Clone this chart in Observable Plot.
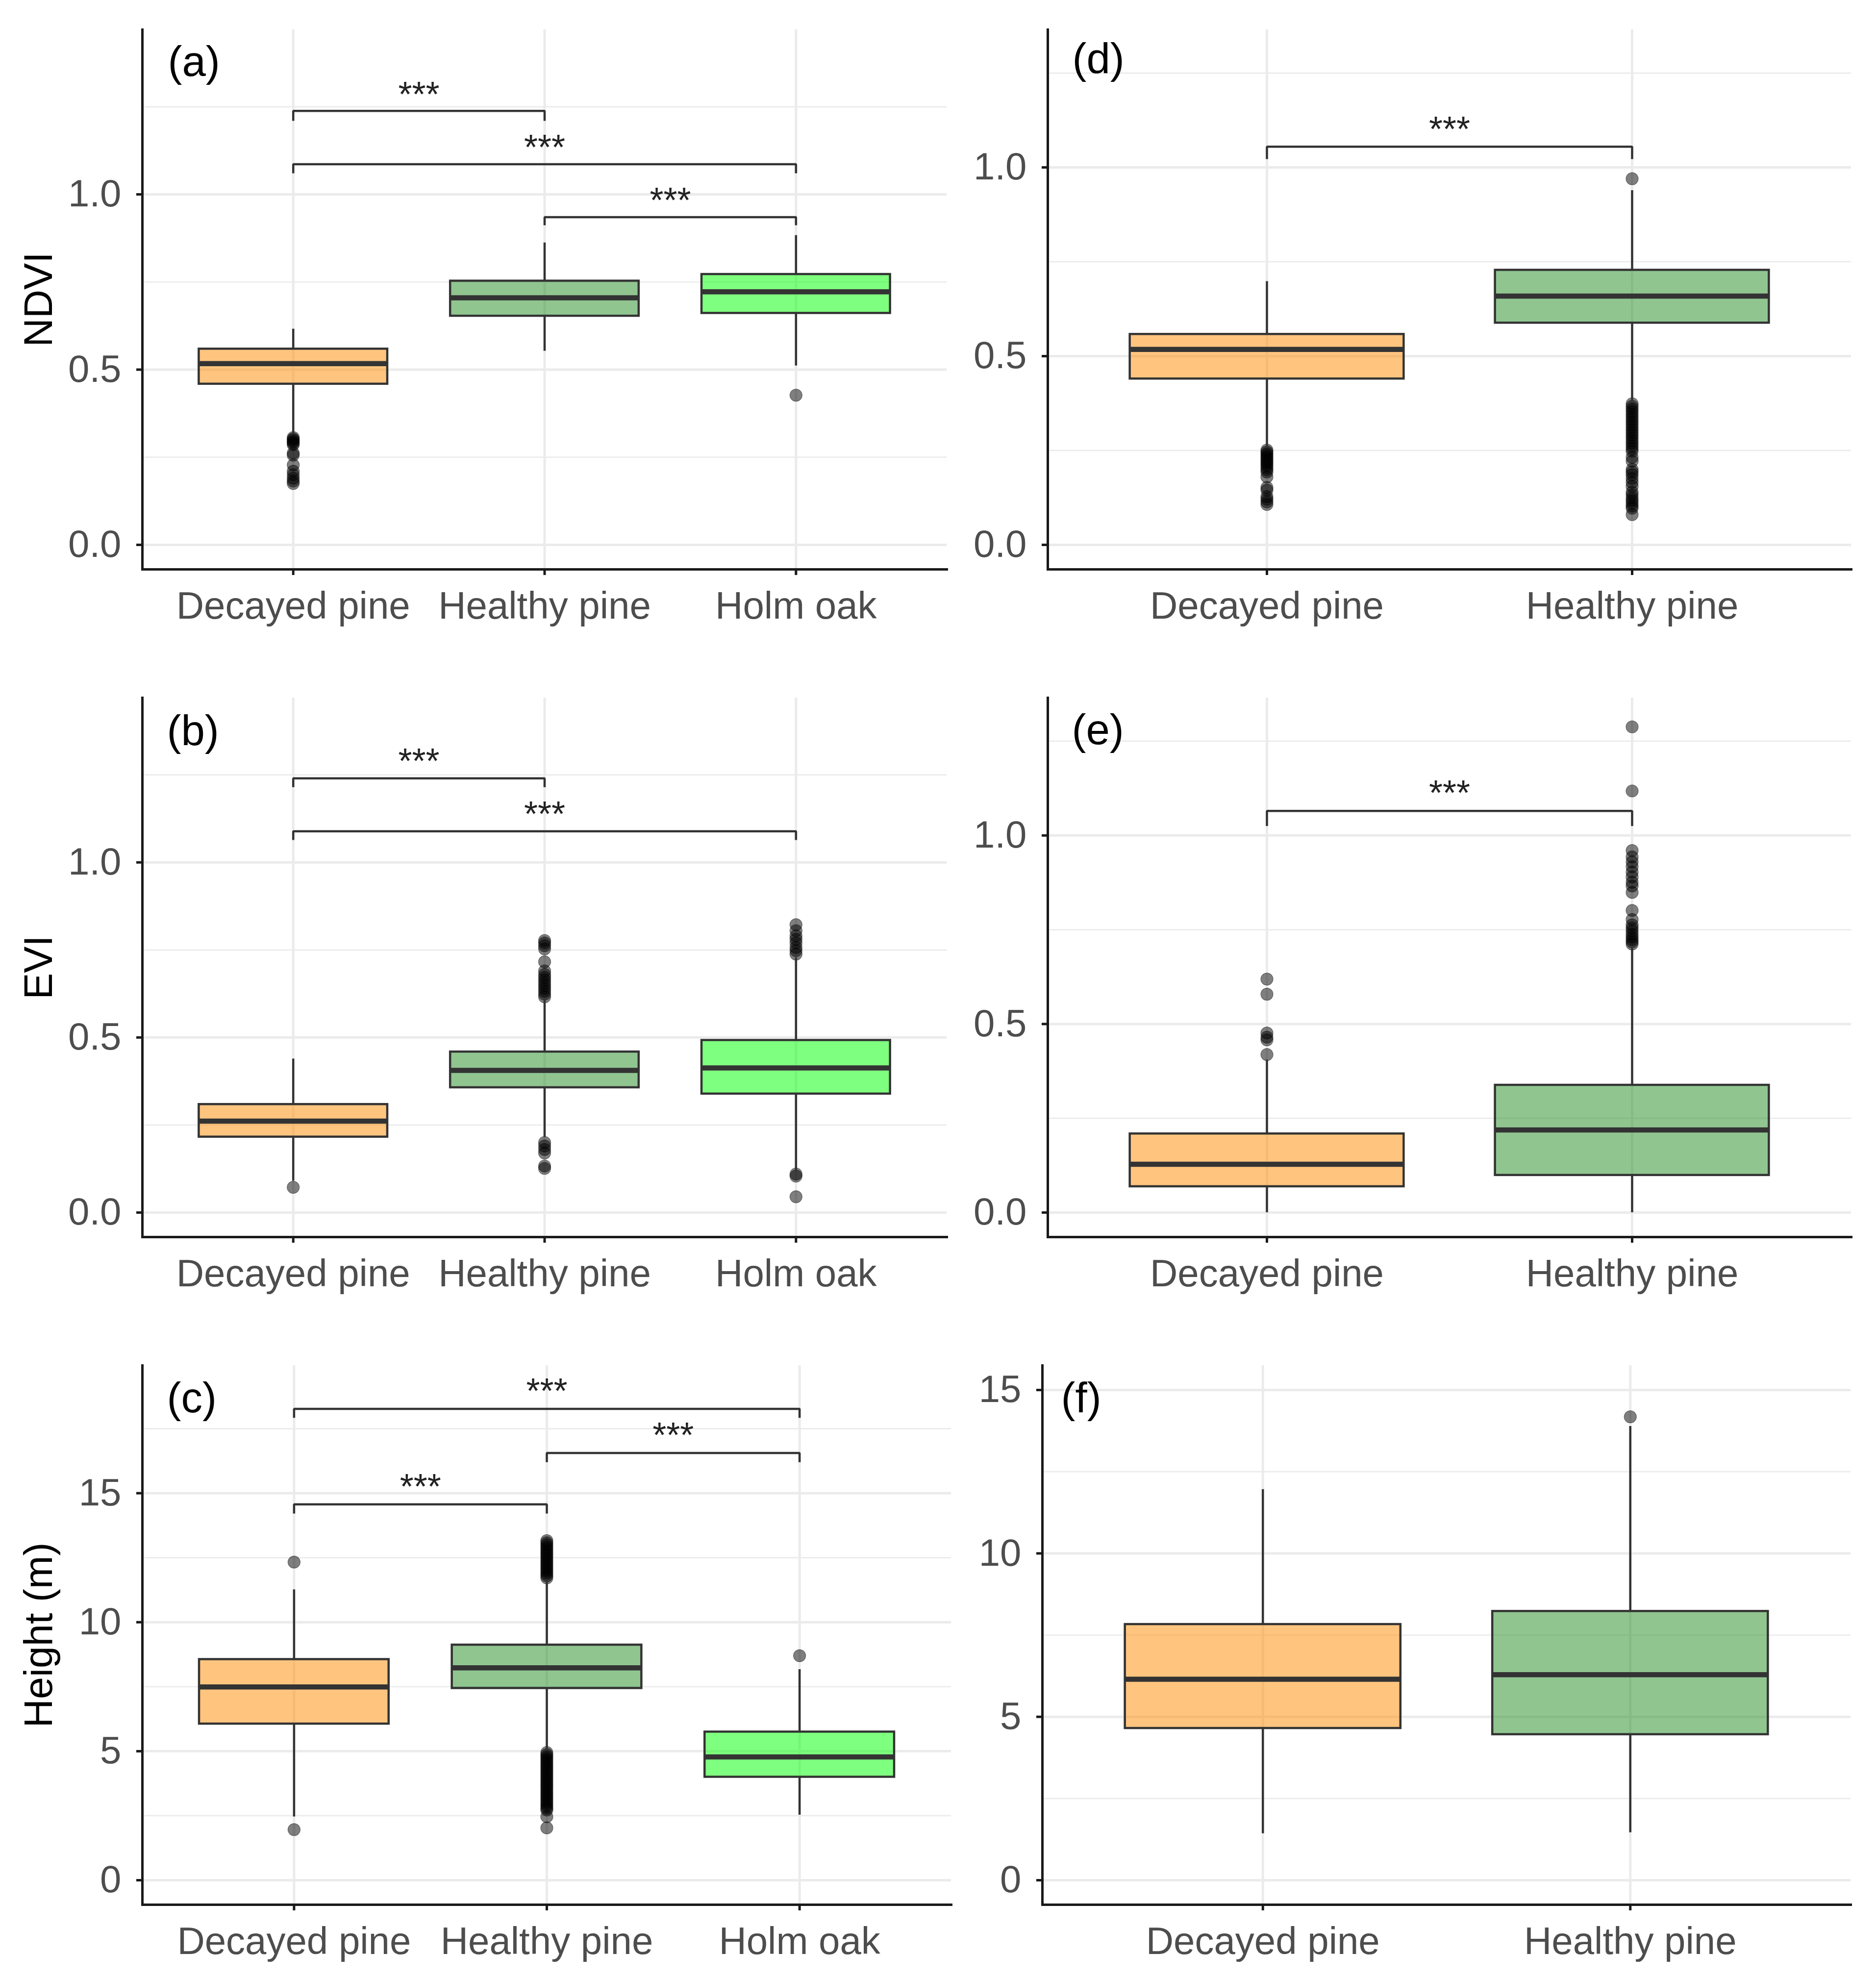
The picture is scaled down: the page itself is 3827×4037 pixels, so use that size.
<!DOCTYPE html>
<html>
<head>
<meta charset="utf-8">
<script src="https://cdn.jsdelivr.net/npm/d3@7"></script>
<script src="https://cdn.jsdelivr.net/npm/@observablehq/plot@0.6"></script>
<style>
  html, body { margin: 0; padding: 0; background: #ffffff; }
  #figure { position: relative; width: 3827px; height: 4037px; background: #ffffff; }
  .panel { position: absolute; }
</style>
</head>
<body>
<div id="figure"></div>
<script>
// ---- Categories and colours ----
const groups3 = ["Decayed pine", "Healthy pine", "Holm oak"];
const groups2 = ["Decayed pine", "Healthy pine"];
const groupFills = ["#FF8C00", "#228B22", "#00FF00"];

// ---- Axis ticks ----
const indexTicks = [0, 0.5, 1.0];
const indexMinor = [0.25, 0.75, 1.25];
const heightTicks = [0, 5, 10, 15];
const heightMinor = [2.5, 7.5, 12.5, 17.5];

// ---- (a) NDVI, three classes ----
const aLow  = [0.318, 0.553, 0.511];
const aQ1   = [0.459, 0.653, 0.661];
const aMed  = [0.517, 0.705, 0.722];
const aQ3   = [0.559, 0.753, 0.772];
const aHigh = [0.616, 0.862, 0.883];
const aOut  = [
  [0.306, 0.302, 0.298, 0.294, 0.290, 0.286, 0.262, 0.256, 0.228, 0.210, 0.200, 0.190, 0.182, 0.175],
  [],
  [0.427]
];
const aBrFrom = [1, 1, 2], aBrTo = [2, 3, 3];
const aBrY = [1.238, 1.086, 0.935], aBrTip = [1.210, 1.060, 0.912], aBrText = [1.323, 1.172, 1.021];

// ---- (b) EVI, three classes ----
const bLow  = [0.090, 0.215, 0.118];
const bQ1   = [0.216, 0.357, 0.339];
const bMed  = [0.261, 0.406, 0.413];
const bQ3   = [0.309, 0.459, 0.492];
const bHigh = [0.439, 0.605, 0.728];
const bOut  = [
  [0.072],
  [0.616, 0.624, 0.632, 0.640, 0.648, 0.656, 0.664, 0.672, 0.680, 0.690, 0.716, 0.753, 0.762, 0.770, 0.777,
   0.200, 0.190, 0.180, 0.170, 0.133, 0.126],
  [0.738, 0.748, 0.757, 0.770, 0.780, 0.790, 0.805, 0.822, 0.110, 0.104, 0.045]
];
const bBrFrom = [1, 1], bBrTo = [2, 3];
const bBrY = [1.240, 1.089], bBrTip = [1.215, 1.064], bBrText = [1.326, 1.175];

// ---- (c) Height, three classes ----
const cLow  = [2.46, 5.05, 2.53];
const cQ1   = [6.06, 7.44, 4.00];
const cMed  = [7.49, 8.23, 4.78];
const cQ3   = [8.56, 9.12, 5.75];
const cHigh = [11.26, 11.65, 8.17];
const cOut  = [
  [12.33, 1.96],
  [11.72, 11.80, 11.88, 11.96, 12.04, 12.12, 12.20, 12.28, 12.36, 12.44, 12.52, 12.60, 12.68, 12.76, 12.84,
   12.92, 13.00, 13.08, 13.16,
   4.95, 4.87, 4.79, 4.71, 4.63, 4.55, 4.47, 4.39, 4.31, 4.23, 4.15, 4.07, 3.99, 3.91, 3.83, 3.75, 3.67,
   3.59, 3.51, 3.43, 3.35, 3.27, 3.19, 3.11, 3.03, 2.95, 2.87, 2.79, 2.72, 2.46, 2.03],
  [8.70]
];
const cBrFrom = [1, 2, 1], cBrTo = [3, 3, 2];
const cBrY = [18.27, 16.56, 14.57], cBrTip = [17.92, 16.20, 14.21], cBrText = [19.46, 17.76, 15.76];

// ---- (d) NDVI, pines ----
const dLow  = [0.262, 0.380];
const dQ1   = [0.440, 0.588];
const dMed  = [0.518, 0.659];
const dQ3   = [0.558, 0.728];
const dHigh = [0.698, 0.939];
const dOut  = [
  [0.251, 0.246, 0.241, 0.236, 0.231, 0.226, 0.221, 0.216, 0.211, 0.205, 0.199, 0.193, 0.180, 0.152, 0.145,
   0.128, 0.121, 0.114, 0.107],
  [0.970,
   0.374, 0.367, 0.360, 0.353, 0.346, 0.339, 0.332, 0.325, 0.318, 0.311, 0.304, 0.297, 0.290, 0.283, 0.276,
   0.269, 0.262, 0.255, 0.248, 0.232, 0.222, 0.200, 0.193, 0.186, 0.176, 0.166, 0.155, 0.140, 0.132, 0.124,
   0.117, 0.110, 0.103, 0.097, 0.080]
];
const dBrFrom = [1], dBrTo = [2];
const dBrY = [1.055], dBrTip = [1.022], dBrText = [1.136];

// ---- (e) EVI, pines ----
const eLow  = [0.000, 0.000];
const eQ1   = [0.069, 0.099];
const eMed  = [0.128, 0.219];
const eQ3   = [0.209, 0.338];
const eHigh = [0.405, 0.703];
const eOut  = [
  [0.419, 0.458, 0.465, 0.476, 0.579, 0.619],
  [0.712, 0.718, 0.724, 0.731, 0.738, 0.747, 0.755, 0.763, 0.777, 0.801, 0.849, 0.866, 0.876, 0.890, 0.903,
   0.917, 0.930, 0.943, 0.960, 1.118, 1.288]
];
const eBrFrom = [1], eBrTo = [2];
const eBrY = [1.065], eBrTip = [1.025], eBrText = [1.147];

// ---- (f) Height, pines ----
const fLow  = [1.43, 1.46];
const fQ1   = [4.65, 4.46];
const fMed  = [6.15, 6.29];
const fQ3   = [7.83, 8.23];
const fHigh = [11.96, 13.89];
const fOut  = [[], [14.18]];

// ---- Shared styling ----
const FONT = "'Liberation Sans', Arial, Helvetica, sans-serif";
const INK = "#333333";
const AXIS = "#1A1A1A";
const GRID = "#EBEBEB";
const BOX_HALF = 0.375; // boxes are 0.75 of a category step wide

function drawPanel(p) {
  const n = p.groups.length;
  const idx = p.groups.map((_, i) => i + 1);
  const [y0, y1] = p.yDomain;
  const inside = v => v >= y0 && v <= y1;

  const boxes = p.groups.map((g, i) => ({
    i: i + 1, fill: groupFills[i],
    low: p.low[i], q1: p.q1[i], med: p.med[i], q3: p.q3[i], high: p.high[i]
  }));
  const outliers = p.out.flatMap((vals, i) => vals.map(v => ({i: i + 1, v})));
  const brackets = (p.brFrom || []).map((f, k) => ({
    id: k, from: f, to: p.brTo[k], y: p.brY[k], tip: p.brTip[k], text: p.brText[k]
  }));
  const bracketPts = brackets.flatMap(b => [
    {id: b.id, x: b.from, y: b.tip},
    {id: b.id, x: b.from, y: b.y},
    {id: b.id, x: b.to, y: b.y},
    {id: b.id, x: b.to, y: b.tip}
  ]);

  const marks = [
    Plot.gridY(p.yMinor.filter(inside), {stroke: GRID, strokeOpacity: 1, strokeWidth: 2.7}),
    Plot.gridY(p.yTicks.filter(inside), {stroke: GRID, strokeOpacity: 1, strokeWidth: 5}),
    Plot.gridX(idx, {stroke: GRID, strokeOpacity: 1, strokeWidth: 5}),
    Plot.dot(outliers, {x: "i", y: "v", r: 12.5, fill: "#000", fillOpacity: 0.5,
                        stroke: "#000", strokeOpacity: 0.45, strokeWidth: 1.2}),
    Plot.ruleX(boxes, {x: "i", y1: "low", y2: "q1", stroke: INK, strokeWidth: 4.5}),
    Plot.ruleX(boxes, {x: "i", y1: "q3", y2: "high", stroke: INK, strokeWidth: 4.5}),
    Plot.rect(boxes, {x1: d => d.i - BOX_HALF, x2: d => d.i + BOX_HALF, y1: "q1", y2: "q3",
                      fill: "fill", fillOpacity: 0.5, stroke: INK, strokeWidth: 4.5}),
    Plot.ruleY(boxes, {x1: d => d.i - BOX_HALF, x2: d => d.i + BOX_HALF, y: "med",
                       stroke: INK, strokeWidth: 10.5}),
    Plot.line(bracketPts, {x: "x", y: "y", z: "id", stroke: INK, strokeWidth: 4.5,
                           strokeLinecap: "butt", strokeLinejoin: "miter"}),
    Plot.text(brackets, {x: d => (d.from + d.to) / 2, y: "text", text: () => "***",
                         lineAnchor: "top", fontSize: 72, fill: "#222"}),
    Plot.frame({anchor: "left", stroke: AXIS, strokeWidth: 5}),
    Plot.frame({anchor: "bottom", stroke: AXIS, strokeWidth: 5}),
    Plot.axisY(p.yTicks.filter(inside), {tickSize: 12, tickPadding: 31, tickFormat: p.yFormat,
                          fontSize: 78, fill: "#4D4D4D", stroke: AXIS, strokeWidth: 5, label: null}),
    Plot.axisX(idx, {tickSize: 12, tickPadding: 33, tickFormat: i => p.groups[i - 1],
                     fontSize: 78, fill: "#4D4D4D", stroke: AXIS, strokeWidth: 5, label: null}),
    Plot.text([p.tag], {frameAnchor: "top-left", dx: p.tagDx, dy: p.tagDy, text: d => d,
                        lineAnchor: "top", textAnchor: "start", fontSize: 87, fill: "#000"})
  ];
  if (p.yTitle) {
    marks.push(Plot.text([p.yTitle], {frameAnchor: "left", dx: -210, rotate: -90, text: d => d,
                                       textAnchor: "middle", lineAnchor: "middle",
                                       fontSize: 81, fill: "#000"}));
  }

  const chart = Plot.plot({
    width: p.width, height: p.height,
    marginLeft: p.ml, marginRight: p.mr, marginTop: p.mt, marginBottom: p.mb,
    style: {fontFamily: FONT, fontSize: "78px", background: "transparent", overflow: "visible"},
    x: {type: "linear", domain: [0.4, n + 0.6]},
    y: {type: "linear", domain: p.yDomain},
    color: {type: "identity"},
    marks
  });
  const holder = document.createElement("div");
  holder.className = "panel";
  holder.style.left = p.left + "px";
  holder.style.top = p.top + "px";
  holder.appendChild(chart);
  document.getElementById("figure").appendChild(holder);
}

const fmt1 = d3.format(".1f");
const fmt0 = d3.format("d");

// Left column: three classes
drawPanel({left: 0, top: 0, width: 1960, height: 1300, ml: 290, mr: 29, mt: 60, mb: 139,
  groups: groups3, low: aLow, q1: aQ1, med: aMed, q3: aQ3, high: aHigh, out: aOut,
  yDomain: [-0.07, 1.47], yTicks: indexTicks, yMinor: indexMinor, yFormat: fmt1,
  brFrom: aBrFrom, brTo: aBrTo, brY: aBrY, brTip: aBrTip, brText: aBrText,
  tag: "(a)", tagDx: 52, tagDy: 33, yTitle: "NDVI"});

drawPanel({left: 0, top: 1310, width: 1960, height: 1340, ml: 290, mr: 29, mt: 113, mb: 127,
  groups: groups3, low: bLow, q1: bQ1, med: bMed, q3: bQ3, high: bHigh, out: bOut,
  yDomain: [-0.07, 1.47], yTicks: indexTicks, yMinor: indexMinor, yFormat: fmt1,
  brFrom: bBrFrom, brTo: bBrTo, brY: bBrY, brTip: bBrTip, brText: bBrText,
  tag: "(b)", tagDx: 50, tagDy: 35, yTitle: "EVI"});

drawPanel({left: 0, top: 2650, width: 1960, height: 1387, ml: 290, mr: 20, mt: 135, mb: 152,
  groups: groups3, low: cLow, q1: cQ1, med: cMed, q3: cQ3, high: cHigh, out: cOut,
  yDomain: [-0.95, 19.95], yTicks: heightTicks, yMinor: heightMinor, yFormat: fmt0,
  brFrom: cBrFrom, brTo: cBrTo, brY: cBrY, brTip: cBrTip, brText: cBrText,
  tag: "(c)", tagDx: 50, tagDy: 34, yTitle: "Height (m)"});

// Right column: pines only
drawPanel({left: 1960, top: 0, width: 1867, height: 1300, ml: 177, mr: 51, mt: 60, mb: 139,
  groups: groups2, low: dLow, q1: dQ1, med: dMed, q3: dQ3, high: dHigh, out: dOut,
  yDomain: [-0.065, 1.365], yTicks: indexTicks, yMinor: indexMinor, yFormat: fmt1,
  brFrom: dBrFrom, brTo: dBrTo, brY: dBrY, brTip: dBrTip, brText: dBrText,
  tag: "(d)", tagDx: 50, tagDy: 27});

drawPanel({left: 1960, top: 1310, width: 1867, height: 1340, ml: 177, mr: 51, mt: 113, mb: 127,
  groups: groups2, low: eLow, q1: eQ1, med: eMed, q3: eQ3, high: eHigh, out: eOut,
  yDomain: [-0.065, 1.365], yTicks: indexTicks, yMinor: indexMinor, yFormat: fmt1,
  brFrom: eBrFrom, brTo: eBrTo, brY: eBrY, brTip: eBrTip, brText: eBrText,
  tag: "(e)", tagDx: 49, tagDy: 33});

drawPanel({left: 1960, top: 2650, width: 1867, height: 1387, ml: 166, mr: 52, mt: 135, mb: 152,
  groups: groups2, low: fLow, q1: fQ1, med: fMed, q3: fQ3, high: fHigh, out: fOut,
  yDomain: [-0.75, 15.75], yTicks: heightTicks, yMinor: heightMinor, yFormat: fmt0,
  tag: "(f)", tagDx: 38, tagDy: 34});
</script>
</body>
</html>
